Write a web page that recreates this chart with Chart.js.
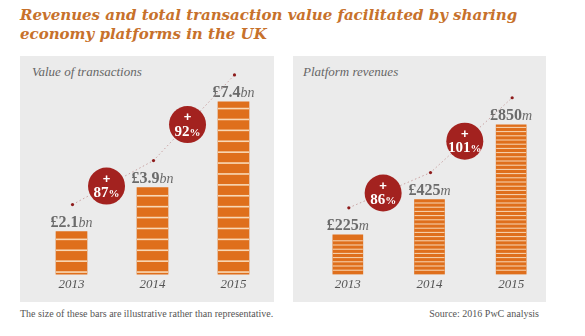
<!DOCTYPE html>
<html>
<head>
<meta charset="utf-8">
<script src="https://cdn.jsdelivr.net/npm/chart.js@4"></script>
<style>
  body { margin: 0; width: 585px; height: 336px; background: #fff; position: relative; overflow: hidden; }
  #title { position: absolute; left: 20px; top: 6px; font: italic bold 15px "DejaVu Serif", serif; line-height: 19px; color: #c7712b; }
  .panel { position: absolute; top: 56px; height: 246px; background: #ebebeb; }
  .ptitle { position: absolute; top: 64px; font: italic 13px "Liberation Serif", serif; color: #666; }
  canvas { position: absolute; top: 56px; }
  .foot { position: absolute; top: 308px; font: 10px "Liberation Serif", serif; color: #555; }
</style>
</head>
<body>
<div id="title">Revenues and total transaction value facilitated by sharing<br>economy platforms in the UK</div>

<div class="panel" style="left:20px;width:254px"></div>
<div class="panel" style="left:293px;width:253px"></div>
<div class="ptitle" style="left:32px">Value of transactions</div>
<div class="ptitle" style="left:303px">Platform revenues</div>

<canvas id="valueChart" width="254" height="246" style="left:20px"></canvas>
<canvas id="revenueChart" width="264" height="246" style="left:293px"></canvas>

<div class="foot" style="left:20px">The size of these bars are illustrative rather than representative.</div>
<div class="foot" style="right:46px">Source: 2016 PwC analysis</div>

<script>
// ---- data ----
const years = ['2013', '2014', '2015'];
const transactionValues = [2.1, 3.9, 7.4];      // £bn
const revenueValues = [225, 425, 850];         // £m
const transactionGrowth = [87, 92];            // % year on year
const revenueGrowth = [86, 101];

const ORANGE = '#df6f1c';
const RED = '#a3221f';

// bar stripes, value labels, dotted trend with growth badges
const decorPlugin = {
    id: 'decor',
    afterDatasetsDraw(chart, args, opts) {
        const ctx = chart.ctx;
        const bars = chart.getDatasetMeta(0).data;
        const values = chart.data.datasets[0].data;

        ctx.save();
        // stripes
        ctx.fillStyle = '#f8d8b6';
        bars.forEach(bar => {
            const w = bar.width;
            for (let yy = bar.base - opts.period; yy > bar.y + 2; yy -= opts.period) {
                ctx.fillRect(bar.x - w / 2, yy - opts.stripe / 2, w, opts.stripe);
            }
        });

        // value labels
        bars.forEach((bar, i) => {
            const main = opts.prefix + values[i];
            ctx.font = 'bold 16px "Liberation Serif", serif';
            const w1 = ctx.measureText(main).width;
            ctx.font = 'italic 14px "Liberation Serif", serif';
            const w2 = ctx.measureText(opts.unit).width;
            let x = bar.x - (w1 + w2) / 2;
            const y = bar.y - 5;
            ctx.fillStyle = '#6b6b6b';
            ctx.textBaseline = 'alphabetic';
            ctx.textAlign = 'left';
            ctx.font = 'bold 16px "Liberation Serif", serif';
            ctx.fillText(main, x, y);
            ctx.font = 'italic 14px "Liberation Serif", serif';
            ctx.fillText(opts.unit, x + w1, y);
        });

        // dotted trend
        const pts = bars.map(bar => ({ x: bar.x + 1, y: bar.y - 27 }));
        ctx.strokeStyle = '#c9a3a3';
        ctx.lineWidth = 1;
        ctx.setLineDash([1.5, 2.5]);
        ctx.beginPath();
        pts.forEach((p, i) => i ? ctx.lineTo(p.x, p.y) : ctx.moveTo(p.x, p.y));
        ctx.stroke();
        ctx.setLineDash([]);
        ctx.fillStyle = '#8e1b1b';
        pts.forEach(p => { ctx.beginPath(); ctx.arc(p.x, p.y, 1.6, 0, Math.PI * 2); ctx.fill(); });

        // growth badges
        opts.growth.forEach((g, i) => {
            const a = pts[i], b = pts[i + 1];
            const cx = a.x + (b.x - a.x) * 0.42;
            const cy = a.y + (b.y - a.y) * 0.42;
            ctx.fillStyle = RED;
            ctx.beginPath(); ctx.arc(cx, cy, 18.5, 0, Math.PI * 2); ctx.fill();
            ctx.fillStyle = '#fff';
            ctx.textAlign = 'center';
            ctx.textBaseline = 'middle';
            ctx.font = 'bold 13px "Liberation Sans", sans-serif';
            ctx.fillText('+', cx, cy - 7);
            ctx.textBaseline = 'alphabetic';
            ctx.font = 'bold 15px "Liberation Serif", serif';
            const n = String(g);
            const wn = ctx.measureText(n).width;
            ctx.font = 'bold 11px "Liberation Serif", serif';
            const wp = ctx.measureText('%').width;
            ctx.textAlign = 'left';
            ctx.font = 'bold 15px "Liberation Serif", serif';
            ctx.fillText(n, cx - (wn + wp) / 2, cy + 11);
            ctx.font = 'bold 11px "Liberation Serif", serif';
            ctx.fillText('%', cx - (wn + wp) / 2 + wn, cy + 11);
        });
        ctx.restore();
    }
};

function makeChart(id, values, yMin, yMax, padLeft, padRight, barW, decor) {
    return new Chart(document.getElementById(id), {
        type: 'bar',
        data: {
            labels: years,
            datasets: [{ data: values, backgroundColor: ORANGE, borderWidth: 0, barThickness: barW }]
        },
        options: {
            responsive: false,
            animation: false,
            devicePixelRatio: 1,
            layout: { padding: { top: 30, bottom: 8, left: padLeft, right: padRight } },
            plugins: {
                legend: { display: false },
                tooltip: { enabled: false },
                decor: decor
            },
            scales: {
                x: {
                    grid: { display: false, drawTicks: false },
                    border: { display: false },
                    ticks: { padding: 2, color: '#555', font: { family: '"Liberation Serif", serif', size: 13, style: 'italic' } }
                },
                y: { display: false, min: yMin, max: yMax }
            }
        },
        plugins: [decorPlugin]
    });
}

makeChart('valueChart', transactionValues, 0.35, 8.05, 11, 0, 31,
    { prefix: '£', unit: 'bn', growth: transactionGrowth, period: 10.9, stripe: 1.6 });
makeChart('revenueChart', revenueValues, 0, 1070, 14, 5, 30,
    { prefix: '£', unit: 'm', growth: revenueGrowth, period: 4.2, stripe: 1 });
</script>
</body>
</html>
